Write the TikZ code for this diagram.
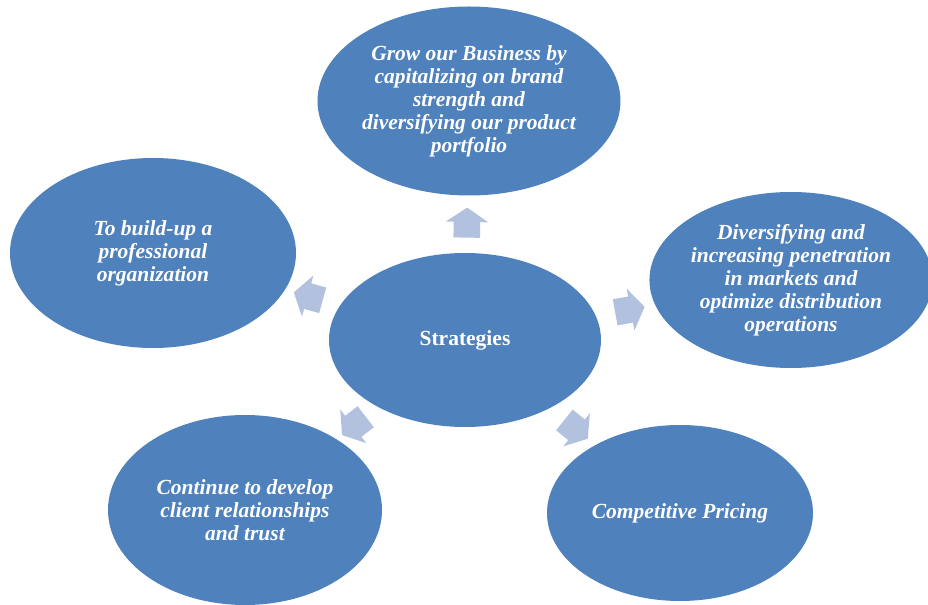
\documentclass[tikz,border=0pt]{standalone}
\usepackage{fontspec}
\setmainfont{Liberation Serif}
\usetikzlibrary{shapes.geometric, shapes.arrows}
\usetikzlibrary{positioning}
\definecolor{bubbleblue}{HTML}{4F81BD}
\definecolor{arrowblue}{HTML}{B2C1DE}
\tikzstyle{bubble} = [ellipse, fill=bubbleblue, text=white, inner sep=0pt, align=center, font=\fontsize{15.3}{16.3}\selectfont\bfseries\itshape]
\tikzstyle{hub} = [bubble, minimum width=6.8cm, minimum height=4.35cm, font=\fontsize{15.3}{16.3}\selectfont\bfseries]
\tikzstyle{fatarrow} = [single arrow, fill=arrowblue, minimum height=0.75cm, inner xsep=0.1cm, inner ysep=0.325cm, single arrow head extend=0.2cm, single arrow tip angle=112, sloped, allow upside down]

\begin{document}
\begin{tikzpicture}
        \useasboundingbox (-11.625,-6.625) rectangle (11.575,8.5);
        %centre and the five strategies round it
        \node (strat) [hub] {Strategies};
        \node (grow) [bubble, minimum width=7.575cm, minimum height=4.725cm, above of=strat, xshift=0.1cm, yshift=4.975cm] {Grow our Business by\\capitalizing on brand\\strength and\\diversifying our product\\portfolio};
        \node (build) [bubble, minimum width=7.15cm, minimum height=4.75cm, left of=strat, xshift=-6.8cm, yshift=2.175cm] {To build-up a\\professional\\organization};
        \node (divers) [bubble, minimum width=6.9cm, minimum height=4.4cm, right of=strat, xshift=7.15cm, yshift=1.5cm] {Diversifying and\\increasing penetration\\in markets and\\optimize distribution\\operations};
        \node (client) [bubble, minimum width=6.85cm, minimum height=4.75cm, below of=strat, xshift=-5.5cm, yshift=-3.25cm] {Continue to develop\\client relationships\\and trust};
        \node (pricing) [bubble, minimum width=6.65cm, minimum height=4.4cm, below of=strat, xshift=5.375cm, yshift=-3.325cm] {Competitive Pricing};
        %arrows
        \path (strat) -- (grow) node [fatarrow, pos=0.45] {};
        \path (strat) -- (build) node [fatarrow, midway] {};
        \path (strat) -- (divers) node [fatarrow, midway] {};
        \path (strat) -- (client) node [fatarrow, midway] {};
        \path (strat) -- (pricing) node [fatarrow, midway] {};
    \end{tikzpicture}
\end{document}
